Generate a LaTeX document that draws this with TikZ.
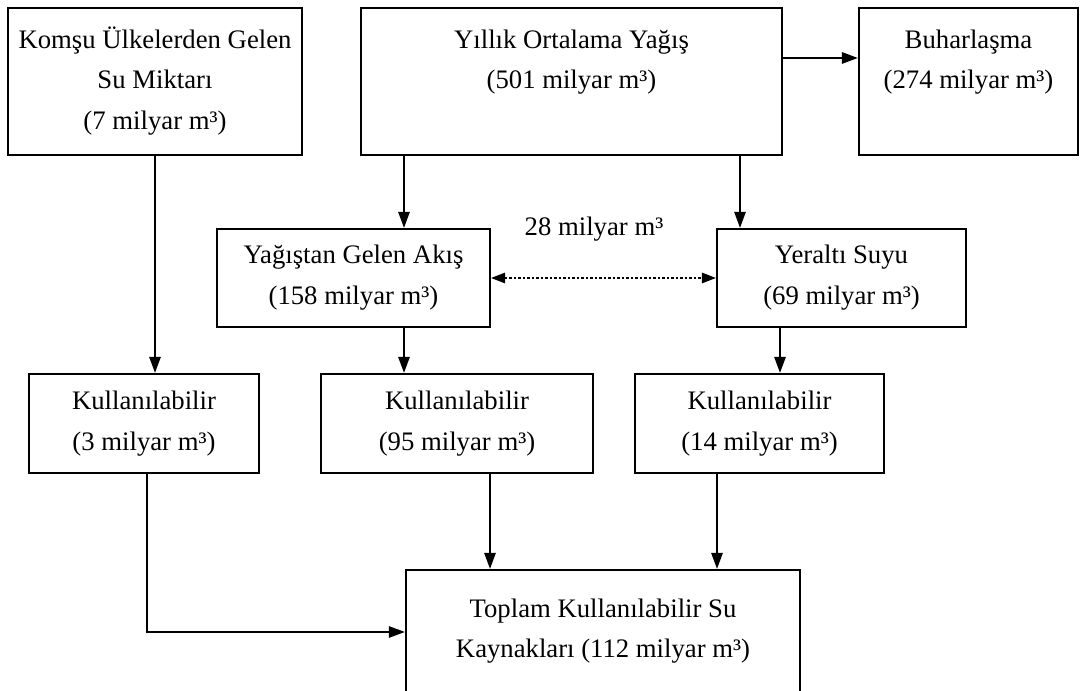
\documentclass[tikz,border=0pt]{standalone}
\usepackage{fontspec}
\setmainfont{Liberation Serif}
\usetikzlibrary{arrows.meta,positioning}

\begin{document}
\begin{tikzpicture}[
  kutu/.style={draw, line width=1.5pt, align=center, inner sep=0pt, font=\fontsize{19pt}{29pt}\selectfont},
  ustkutu/.style={kutu, text height=#1, text depth=0pt},
  ok/.style={-{Triangle[length=4mm,width=2.8mm]}, line width=1.5pt},
  ciftok/.style={{Triangle[length=3.5mm,width=2.6mm]}-{Triangle[length=3.5mm,width=2.6mm]}, line width=1.1pt, dash pattern=on 2pt off 1.2pt},
  yazi/.style={font=\fontsize{19pt}{29pt}\selectfont, inner sep=0pt}
]
\useasboundingbox (0,0) rectangle (27,17.275);

% ust sira
\node[ustkutu=68.4pt, minimum width=7.35cm, minimum height=3.675cm] (komsu) at (3.875,15.2375) {Komşu Ülkelerden Gelen\\Su Miktarı\\(7 milyar m³)};
\node[ustkutu=10.4pt, minimum width=10.525cm, minimum height=3.675cm] (yagis) at (14.2875,15.2375) {Yıllık Ortalama Yağış\\(501 milyar m³)};
\node[ustkutu=10.4pt, minimum width=5.475cm, minimum height=3.675cm] (buhar) at (24.2125,15.2375) {Buharlaşma\\(274 milyar m³)};

% orta sira
\node[kutu, minimum width=6.825cm, minimum height=2.45cm] (akis) at (8.8375,10.325) {Yağıştan Gelen Akış\\(158 milyar m³)};
\node[kutu, minimum width=6.225cm, minimum height=2.45cm] (yeralti) at (21.0375,10.325) {Yeraltı Suyu\\(69 milyar m³)};
\node[yazi] (fark) at (14.85,11.55) {28 milyar m³};

% kullanilabilir
\node[kutu, minimum width=5.75cm, minimum height=2.475cm] (kul1) at (3.6,6.6875) {Kullanılabilir\\(3 milyar m³)};
\node[kutu, minimum width=6.8cm, minimum height=2.475cm] (kul2) at (11.425,6.6875) {Kullanılabilir\\(95 milyar m³)};
\node[kutu, minimum width=6.225cm, minimum height=2.475cm] (kul3) at (18.9875,6.6875) {Kullanılabilir\\(14 milyar m³)};

% toplam
\node[ustkutu=18.2pt, minimum width=9.85cm, minimum height=3.75cm] (toplam) at (15.075,1.15) {Toplam Kullanılabilir Su\\Kaynakları (112 milyar m³)};

\coordinate (a) at (10.1,0);
\coordinate (b) at (18.5,0);
\coordinate (c) at (19.5,0);
\coordinate (d) at (12.25,0);
\coordinate (e) at (17.925,0);

\draw[ok] ([yshift=0.5875cm]yagis.east) -- ([yshift=0.5875cm]buhar.west); % buharlasma
\draw[ok] (a |- yagis.south) -- (a |- akis.north);
\draw[ok] (b |- yagis.south) -- (b |- yeralti.north);
\draw[ciftok] (akis.east) -- (yeralti.west); % 28
\draw[ok] (komsu.south) -- (komsu.south |- kul1.north);
\draw[ok] (a |- akis.south) -- (a |- kul2.north);
\draw[ok] (c |- yeralti.south) -- (c |- kul3.north);
\draw[ok] (d |- kul2.south) -- (d |- toplam.north);
\draw[ok] (e |- kul3.south) -- (e |- toplam.north);
\draw[ok] ([xshift=0.075cm]kul1.south) |- ([yshift=0.325cm]toplam.west); % sol
\end{tikzpicture}
\end{document}
